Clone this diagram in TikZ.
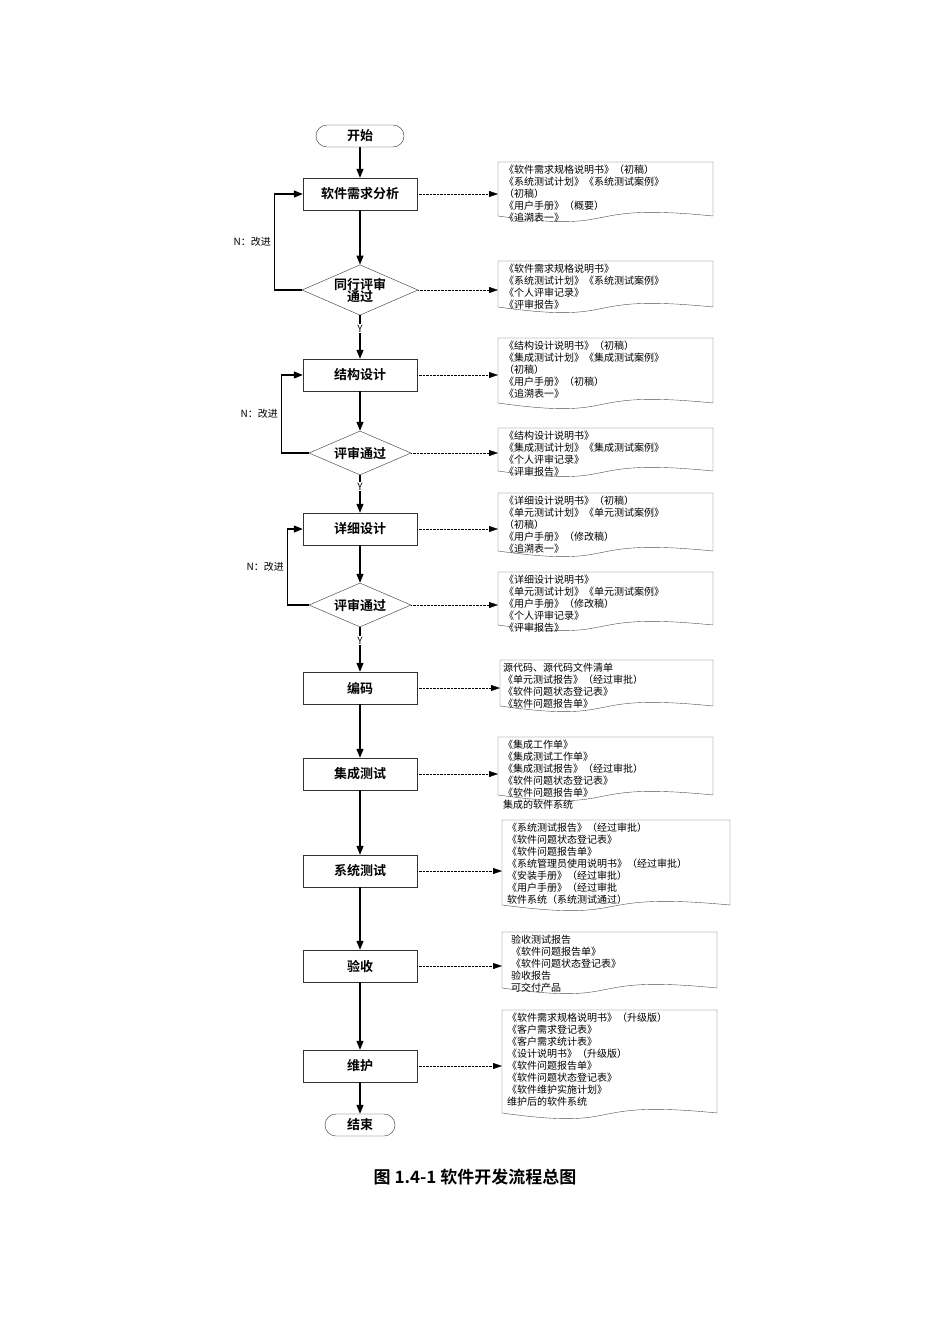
\documentclass[tikz,border=0pt]{standalone}
\usepackage{fontspec}
\setmainfont{Noto Sans CJK SC}[BoldFont={Noto Sans CJK SC Bold}]
\usetikzlibrary{shapes,arrows.meta,calc}

% document shape with a wavy bottom edge
\newcommand{\docshape}[5]{%
  \coordinate (#1) at (#2,#3);
  \draw [thin, black!70] (#2,#5) -- (#2,#3) -- (#4,#3) -- (#4,#5)
    .. controls ($(#2,#5)!0.35!(#4,#5)+(0,-14)$) and ($(#2,#5)!0.6!(#4,#5)+(0,18)$) .. (#2,#5);
}

\begin{document}
\begin{tikzpicture}[x=1pt,y=-1pt]
  \tikzstyle{box} = [rectangle, draw, thin, black!80, text=black, minimum width=114, minimum height=32, font=\fontsize{13}{15}\selectfont\bfseries]
  \tikzstyle{term} = [rectangle, rounded corners=11, draw, thin, black!80, text=black, minimum height=22, font=\fontsize{13}{15}\selectfont\bfseries]
  \tikzstyle{dec} = [diamond, draw, thin, black!80, text=black, aspect=2.3, inner sep=0pt, minimum width=102, minimum height=44, font=\fontsize{13}{15}\selectfont\bfseries, align=center]
  \tikzstyle{doctext} = [anchor=north west, inner sep=0pt, align=left, font=\fontsize{10}{12}\selectfont]
  \tikzstyle{line} = [line width=1.1pt, -{Triangle[length=9pt,width=7pt]}]
  \tikzstyle{link} = [densely dotted, thin, -{Triangle[length=9pt,width=6pt]}]
  \tikzstyle{small} = [font=\fontsize{10}{12}\selectfont]
  \useasboundingbox (0,0) rectangle (950,1344);

  % main flow
  \node (start) [term, minimum width=88] at (360,136) {开始};
  \node (a1) [box] at (360,194) {软件需求分析};
  \node (q1) [dec, text width=60] at (360,290) {同行评审\\[-3pt]通过};
  \node (a2) [box] at (360,375) {结构设计};
  \node (q2) [dec] at (360,453) {评审通过};
  \node (a3) [box] at (360,529) {详细设计};
  \node (q3) [dec] at (360,605) {评审通过};
  \node (a4) [box] at (360,688) {编码};
  \node (a5) [box] at (360,774) {集成测试};
  \node (a6) [box] at (360,871) {系统测试};
  \node (a7) [box] at (360,966) {验收};
  \node (a8) [box] at (360,1066) {维护};
  \node (stop) [term, minimum width=70] at (360,1125) {结束};

  \draw [line] (start) -- (a1);
  \draw [line] (a1) -- (q1);
  \draw [line] (q1) -- node[small, pos=0.3, fill=white, inner sep=1pt]{Y} (a2);
  \draw [line] (a2) -- (q2);
  \draw [line] (q2) -- node[small, pos=0.3, fill=white, inner sep=1pt]{Y} (a3);
  \draw [line] (a3) -- (q3);
  \draw [line] (q3) -- node[small, pos=0.3, fill=white, inner sep=1pt]{Y} (a4);
  \draw [line] (a4) -- (a5);
  \draw [line] (a5) -- (a6);
  \draw [line] (a6) -- (a7);
  \draw [line] (a7) -- (a8);
  \draw [line] (a8) -- (stop);

  % loops back
  \draw [line] (q1.west) -- ++(-27,0) |- node[small, pos=0.25, left]{N：改进} (a1.west);
  \draw [line] (q2.west) -- ++(-27,0) |- node[small, pos=0.25, left]{N：改进} (a2.west);
  \draw [line] (q3.west) -- ++(-21,0) |- node[small, pos=0.25, left]{N：改进} (a3.west);

  % documents
  \docshape{d1}{498}{162}{713}{216}
  \node (t1) [doctext] at (504,165) {《软件需求规格说明书》（初稿）\\《系统测试计划》《系统测试案例》\\（初稿）\\《用户手册》（概要）\\《追溯表一》};
  \docshape{d2}{498}{261}{713}{307}
  \node (t2) [doctext] at (504,264) {《软件需求规格说明书》\\《系统测试计划》《系统测试案例》\\《个人评审记录》\\《评审报告》};
  \docshape{d3}{498}{338}{713}{403}
  \node (t3) [doctext] at (504,341) {《结构设计说明书》（初稿）\\《集成测试计划》《集成测试案例》\\（初稿）\\《用户手册》（初稿）\\《追溯表一》};
  \docshape{d4}{498}{428}{713}{471}
  \node (t4) [doctext] at (504,431) {《结构设计说明书》\\《集成测试计划》《集成测试案例》\\《个人评审记录》\\《评审报告》};
  \docshape{d5}{498}{493}{713}{551}
  \node (t5) [doctext] at (504,496) {《详细设计说明书》（初稿）\\《单元测试计划》《单元测试案例》\\（初稿）\\《用户手册》（修改稿）\\《追溯表一》};
  \docshape{d6}{498}{572}{713}{625}
  \node (t6) [doctext] at (504,575) {《详细设计说明书》\\《单元测试计划》《单元测试案例》\\《用户手册》（修改稿）\\《个人评审记录》\\《评审报告》};
  \docshape{d7}{500}{660}{713}{706}
  \node (t7) [doctext] at (503,663) {源代码、源代码文件清单\\《单元测试报告》（经过审批）\\《软件问题状态登记表》\\《软件问题报告单》};
  \docshape{d8}{498}{737}{713}{795}
  \node (t8) [doctext] at (503,740) {《集成工作单》\\《集成测试工作单》\\《集成测试报告》（经过审批）\\《软件问题状态登记表》\\《软件问题报告单》\\集成的软件系统};
  \docshape{d9}{502}{820}{730}{905}
  \node (t9) [doctext] at (507,823) {《系统测试报告》（经过审批）\\《软件问题状态登记表》\\《软件问题报告单》\\《系统管理员使用说明书》（经过审批）\\《安装手册》（经过审批）\\《用户手册》（经过审批\\软件系统（系统测试通过）};
  \docshape{d10}{502}{932}{717}{988}
  \node (t10) [doctext] at (511,935) {验收测试报告\\《软件问题报告单》\\《软件问题状态登记表》\\验收报告\\可交付产品};
  \docshape{d11}{502}{1010}{717}{1113}
  \node (t11) [doctext] at (507,1013) {《软件需求规格说明书》（升级版）\\《客户需求登记表》\\《客户需求统计表》\\《设计说明书》（升级版）\\《软件问题报告单》\\《软件问题状态登记表》\\《软件维护实施计划》\\维护后的软件系统};

  % links to documents
  \draw [link] (a1.east) -- (a1.east -| d1);
  \draw [link] (q1.east) -- (q1.east -| d2);
  \draw [link] (a2.east) -- (a2.east -| d3);
  \draw [link] (q2.east) -- (q2.east -| d4);
  \draw [link] (a3.east) -- (a3.east -| d5);
  \draw [link] (q3.east) -- (q3.east -| d6);
  \draw [link] (a4.east) -- (a4.east -| d7);
  \draw [link] (a5.east) -- (a5.east -| d8);
  \draw [link] (a6.east) -- (a6.east -| d9);
  \draw [link] (a7.east) -- (a7.east -| d10);
  \draw [link] (a8.east) -- (a8.east -| d11);

  \node (caption) [font=\fontsize{17}{20}\selectfont\bfseries] at (475,1177) {图 1.4-1 软件开发流程总图};
\end{tikzpicture}
\end{document}
